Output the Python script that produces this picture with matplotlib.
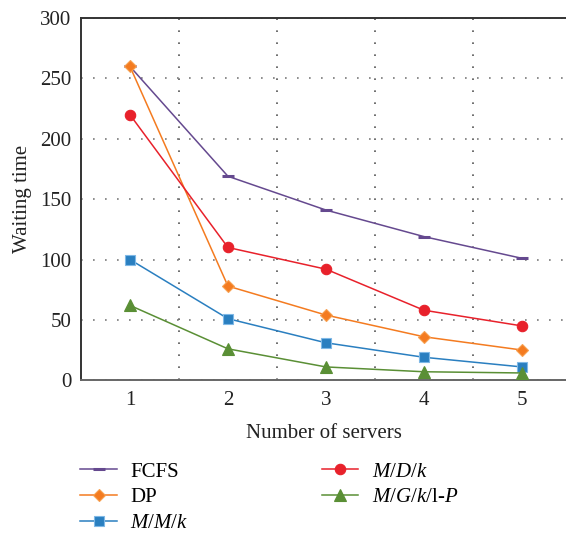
import matplotlib
matplotlib.use("Agg")
import matplotlib.pyplot as plt
from matplotlib.ticker import MultipleLocator

plt.rcParams['font.family'] = ['Liberation Serif', 'DejaVu Serif']
plt.rcParams['mathtext.fontset'] = 'custom'
plt.rcParams['mathtext.rm'] = 'Liberation Serif'
plt.rcParams['mathtext.it'] = 'Liberation Serif:italic'

servers = [1, 2, 3, 4, 5]
fcfs = [260, 169, 141, 119, 101]
dp = [260, 78, 54, 36, 25]
mmk = [100, 51, 31, 19, 11]
mdk = [220, 110, 92, 58, 45]
mgk = [62, 26, 11, 7, 6]

fig = plt.figure(figsize=(5.66, 5.34), dpi=100)
ax = fig.add_axes([0.143, 0.288, 0.857, 0.678])

# (label, values, color, marker, marker size, edge color)
series = [
    ('FCFS', fcfs, '#65498f', '_', 8, '#65498f'),
    ('DP', dp, '#f47b20', 'D', 6, '#f7a050'),
    (r'$M/M/k$', mmk, '#2a7fc0', 's', 7.5, '#7fb8e6'),
    (r'$M/D/k$', mdk, '#e8212b', 'o', 7.5, '#e8212b'),
    (r'$M/G/k/\mathrm{l}$-$P$', mgk, '#5a8f35', '^', 8, '#5a8f35'),
]

handles = []
for label, vals, color, marker, ms, edge in series:
    mew = 2.2 if marker == '_' else 0.8
    h, = ax.plot(servers, vals, color=color, lw=1.1, marker=marker, ms=ms,
                 markerfacecolor=color, markeredgecolor=edge,
                 markeredgewidth=mew, label=label, zorder=3)
    handles.append(h)

ax.set_xlim(0.5, 5.45)
ax.set_ylim(0, 300)
ax.set_xticks(servers)
ax.yaxis.set_major_locator(MultipleLocator(50))
ax.set_xticks([1.5, 2.5, 3.5, 4.5], minor=True)

ax.tick_params(axis='both', which='both', length=0, labelsize=15, colors='#222222')
ax.tick_params(axis='y', pad=7)
ax.tick_params(axis='x', pad=8)

ax.grid(True, axis='y', which='major', color='#7a7a7a', lw=1.2, linestyle=(0, (1, 6.2)))
ax.grid(True, axis='x', which='minor', color='#555555', lw=1.2, linestyle=(0, (1, 6.2)))
ax.grid(False, axis='x', which='major')

for side in ['left', 'top']:
    ax.spines[side].set_color('#333333')
    ax.spines[side].set_linewidth(1.4)
ax.spines['bottom'].set_color('#666666')
ax.spines['bottom'].set_linewidth(1.4)
ax.spines['right'].set_visible(False)

ax.set_xlabel('Number of servers', fontsize=15, labelpad=10, color='#222222')
ax.set_ylabel('Waiting time', fontsize=15, labelpad=6, color='#222222')

fig.legend(handles, [h.get_label() for h in handles], loc='upper left',
           bbox_to_anchor=(0.109, 0.17), ncol=2, frameon=False, fontsize=15,
           handlelength=1.75, columnspacing=6.4, labelspacing=0.3,
           handletextpad=0.65)

fig.savefig('out.png', dpi=100)
